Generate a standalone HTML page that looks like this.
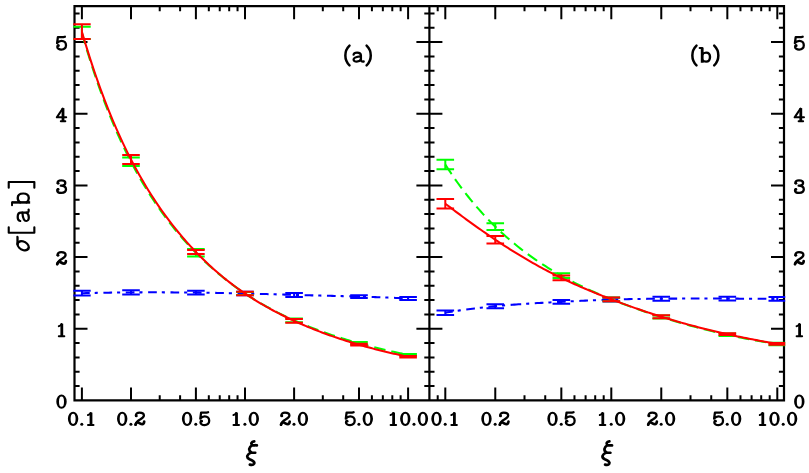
<!DOCTYPE html>
<html><head><meta charset="utf-8"><title>chart</title>
<style>html,body{margin:0;padding:0;background:#fff}svg{display:block}text{font-family:"Liberation Serif",serif}</style>
</head><body>
<svg width="809" height="473" viewBox="0 0 809 473">
<rect x="0" y="0" width="809" height="473" fill="#fff"/>
<defs><clipPath id="ca"><rect x="73.3" y="6.2" width="356.1" height="394.2"/></clipPath><clipPath id="cb"><rect x="429.4" y="6.2" width="355.8" height="394.2"/></clipPath></defs>
<path d="M74.5 386.07h5.1M424.30 386.07h10.2M784.0 386.07h-5.1M74.5 371.73h5.1M424.30 371.73h10.2M784.0 371.73h-5.1M74.5 357.40h5.1M424.30 357.40h10.2M784.0 357.40h-5.1M74.5 343.06h5.1M424.30 343.06h10.2M784.0 343.06h-5.1M74.5 328.73h13.0M416.40 328.73h26.0M784.0 328.73h-13.0M74.5 314.40h5.1M424.30 314.40h10.2M784.0 314.40h-5.1M74.5 300.06h5.1M424.30 300.06h10.2M784.0 300.06h-5.1M74.5 285.73h5.1M424.30 285.73h10.2M784.0 285.73h-5.1M74.5 271.39h5.1M424.30 271.39h10.2M784.0 271.39h-5.1M74.5 257.06h13.0M416.40 257.06h26.0M784.0 257.06h-13.0M74.5 242.73h5.1M424.30 242.73h10.2M784.0 242.73h-5.1M74.5 228.39h5.1M424.30 228.39h10.2M784.0 228.39h-5.1M74.5 214.06h5.1M424.30 214.06h10.2M784.0 214.06h-5.1M74.5 199.72h5.1M424.30 199.72h10.2M784.0 199.72h-5.1M74.5 185.39h13.0M416.40 185.39h26.0M784.0 185.39h-13.0M74.5 171.06h5.1M424.30 171.06h10.2M784.0 171.06h-5.1M74.5 156.72h5.1M424.30 156.72h10.2M784.0 156.72h-5.1M74.5 142.39h5.1M424.30 142.39h10.2M784.0 142.39h-5.1M74.5 128.05h5.1M424.30 128.05h10.2M784.0 128.05h-5.1M74.5 113.72h13.0M416.40 113.72h26.0M784.0 113.72h-13.0M74.5 99.39h5.1M424.30 99.39h10.2M784.0 99.39h-5.1M74.5 85.05h5.1M424.30 85.05h10.2M784.0 85.05h-5.1M74.5 70.72h5.1M424.30 70.72h10.2M784.0 70.72h-5.1M74.5 56.38h5.1M424.30 56.38h10.2M784.0 56.38h-5.1M74.5 42.05h13.0M416.40 42.05h26.0M784.0 42.05h-13.0M74.5 27.72h5.1M424.30 27.72h10.2M784.0 27.72h-5.1M74.5 13.38h5.1M424.30 13.38h10.2M784.0 13.38h-5.1M81.90 400.4v-13.0M81.90 6.2v13.0M131.00 400.4v-13.0M131.00 6.2v13.0M159.72 400.4v-5.1M159.72 6.2v5.1M180.10 400.4v-5.1M180.10 6.2v5.1M195.90 400.4v-13.0M195.90 6.2v13.0M208.82 400.4v-5.1M208.82 6.2v5.1M219.74 400.4v-5.1M219.74 6.2v5.1M229.19 400.4v-5.1M229.19 6.2v5.1M237.54 400.4v-5.1M237.54 6.2v5.1M245.00 400.4v-13.0M245.00 6.2v13.0M294.10 400.4v-13.0M294.10 6.2v13.0M322.82 400.4v-5.1M322.82 6.2v5.1M343.20 400.4v-5.1M343.20 6.2v5.1M359.00 400.4v-13.0M359.00 6.2v13.0M371.92 400.4v-5.1M371.92 6.2v5.1M382.84 400.4v-5.1M382.84 6.2v5.1M392.29 400.4v-5.1M392.29 6.2v5.1M400.64 400.4v-5.1M400.64 6.2v5.1M408.10 400.4v-13.0M408.10 6.2v13.0M437.70 400.4v-5.1M437.70 6.2v5.1M445.30 400.4v-13.0M445.30 6.2v13.0M495.27 400.4v-13.0M495.27 6.2v13.0M524.50 400.4v-5.1M524.50 6.2v5.1M545.24 400.4v-5.1M545.24 6.2v5.1M561.33 400.4v-13.0M561.33 6.2v13.0M574.47 400.4v-5.1M574.47 6.2v5.1M585.59 400.4v-5.1M585.59 6.2v5.1M595.21 400.4v-5.1M595.21 6.2v5.1M603.70 400.4v-5.1M603.70 6.2v5.1M611.30 400.4v-13.0M611.30 6.2v13.0M661.27 400.4v-13.0M661.27 6.2v13.0M690.50 400.4v-5.1M690.50 6.2v5.1M711.24 400.4v-5.1M711.24 6.2v5.1M727.33 400.4v-13.0M727.33 6.2v13.0M740.47 400.4v-5.1M740.47 6.2v5.1M751.59 400.4v-5.1M751.59 6.2v5.1M761.21 400.4v-5.1M761.21 6.2v5.1M769.70 400.4v-5.1M769.70 6.2v5.1M777.30 400.4v-13.0M777.30 6.2v13.0" stroke="#000" stroke-width="2" fill="none"/>
<path d="M74.5 6.2H784.0V400.4H74.5ZM429.4 6.2V400.4" stroke="#000" stroke-width="2.2" fill="none" stroke-linejoin="miter"/>
<g clip-path="url(#ca)" fill="none">
<path d="M81.90 293.20 L83.95 293.15 L86.00 293.10 L88.05 293.05 L90.11 293.00 L92.16 292.95 L94.21 292.91 L96.26 292.87 L98.31 292.83 L100.36 292.79 L102.42 292.75 L104.47 292.72 L106.52 292.68 L108.57 292.65 L110.62 292.62 L112.67 292.59 L114.73 292.56 L116.78 292.54 L118.83 292.51 L120.88 292.49 L122.93 292.47 L124.98 292.45 L127.03 292.43 L129.09 292.41 L131.14 292.40 L133.19 292.39 L135.24 292.37 L137.29 292.36 L139.34 292.35 L141.40 292.35 L143.45 292.34 L145.50 292.33 L147.55 292.33 L149.60 292.33 L151.65 292.33 L153.71 292.33 L155.76 292.33 L157.81 292.33 L159.86 292.34 L161.91 292.34 L163.96 292.35 L166.01 292.36 L168.07 292.36 L170.12 292.37 L172.17 292.39 L174.22 292.40 L176.27 292.41 L178.32 292.43 L180.38 292.44 L182.43 292.46 L184.48 292.48 L186.53 292.50 L188.58 292.52 L190.63 292.54 L192.68 292.56 L194.74 292.59 L196.79 292.61 L198.84 292.64 L200.89 292.66 L202.94 292.69 L204.99 292.72 L207.05 292.75 L209.10 292.78 L211.15 292.81 L213.20 292.84 L215.25 292.88 L217.30 292.91 L219.36 292.95 L221.41 292.99 L223.46 293.02 L225.51 293.06 L227.56 293.10 L229.61 293.15 L231.66 293.19 L233.72 293.23 L235.77 293.28 L237.82 293.33 L239.87 293.37 L241.92 293.42 L243.97 293.47 L246.03 293.53 L248.08 293.58 L250.13 293.63 L252.18 293.69 L254.23 293.74 L256.28 293.80 L258.34 293.86 L260.39 293.92 L262.44 293.98 L264.49 294.04 L266.54 294.10 L268.59 294.16 L270.64 294.22 L272.70 294.28 L274.75 294.34 L276.80 294.40 L278.85 294.46 L280.90 294.52 L282.95 294.58 L285.01 294.64 L287.06 294.70 L289.11 294.76 L291.16 294.82 L293.21 294.88 L295.26 294.93 L297.32 294.99 L299.37 295.04 L301.42 295.10 L303.47 295.15 L305.52 295.20 L307.57 295.26 L309.62 295.31 L311.68 295.36 L313.73 295.41 L315.78 295.46 L317.83 295.52 L319.88 295.57 L321.93 295.62 L323.99 295.67 L326.04 295.72 L328.09 295.77 L330.14 295.82 L332.19 295.87 L334.24 295.93 L336.29 295.98 L338.35 296.03 L340.40 296.08 L342.45 296.14 L344.50 296.19 L346.55 296.25 L348.60 296.30 L350.66 296.36 L352.71 296.42 L354.76 296.48 L356.81 296.54 L358.86 296.60 L360.91 296.66 L362.97 296.72 L365.02 296.78 L367.07 296.85 L369.12 296.91 L371.17 296.98 L373.22 297.05 L375.27 297.12 L377.33 297.19 L379.38 297.27 L381.43 297.34 L383.48 297.42 L385.53 297.50 L387.58 297.58 L389.64 297.66 L391.69 297.75 L393.74 297.83 L395.79 297.92 L397.84 298.01 L399.89 298.11 L401.95 298.20 L404.00 298.30 L406.05 298.40 L408.10 298.50" stroke="#0000ff" stroke-width="2.05" stroke-dasharray="8.7 4.95 3.1 5.61" stroke-dashoffset="0.85" stroke-linejoin="round"/>
<path d="M81.90 290.80V295.60M73.10 290.80H90.70M73.10 295.60H90.70M131.00 290.35V294.45M122.20 290.35H139.80M122.20 294.45H139.80M195.90 290.75V294.45M187.10 290.75H204.70M187.10 294.45H204.70M245.00 291.80V295.20M236.20 291.80H253.80M236.20 295.20H253.80M294.10 292.90V296.90M285.30 292.90H302.90M285.30 296.90H302.90M359.00 295.15V298.05M350.20 295.15H367.80M350.20 298.05H367.80M408.10 297.05V299.95M399.30 297.05H416.90M399.30 299.95H416.90" stroke="#0000ff" stroke-width="2.0"/>
<path d="M81.90 32.85 L83.95 39.99 L86.00 46.94 L88.05 53.71 L90.11 60.29 L92.16 66.70 L94.21 72.94 L96.26 79.02 L98.31 84.95 L100.36 90.72 L102.42 96.34 L104.47 101.82 L106.52 107.17 L108.57 112.38 L110.62 117.46 L112.67 122.42 L114.73 127.25 L116.78 131.97 L118.83 136.58 L120.88 141.07 L122.93 145.46 L124.98 149.75 L127.03 153.93 L129.09 158.02 L131.14 162.02 L133.19 165.92 L135.24 169.74 L137.29 173.47 L139.34 177.12 L141.40 180.68 L143.45 184.17 L145.50 187.58 L147.55 190.92 L149.60 194.19 L151.65 197.39 L153.71 200.52 L155.76 203.58 L157.81 206.59 L159.86 209.53 L161.91 212.41 L163.96 215.23 L166.01 218.00 L168.07 220.71 L170.12 223.37 L172.17 225.97 L174.22 228.53 L176.27 231.03 L178.32 233.49 L180.38 235.91 L182.43 238.28 L184.48 240.60 L186.53 242.88 L188.58 245.12 L190.63 247.32 L192.68 249.49 L194.74 251.61 L196.79 253.70 L198.84 255.75 L200.89 257.76 L202.94 259.74 L204.99 261.69 L207.05 263.60 L209.10 265.48 L211.15 267.32 L213.20 269.14 L215.25 270.92 L217.30 272.67 L219.36 274.39 L221.41 276.08 L223.46 277.74 L225.51 279.37 L227.56 280.97 L229.61 282.55 L231.66 284.09 L233.72 285.61 L235.77 287.10 L237.82 288.57 L239.87 290.01 L241.92 291.43 L243.97 292.81 L246.03 294.18 L248.08 295.52 L250.13 296.84 L252.18 298.13 L254.23 299.40 L256.28 300.65 L258.34 301.88 L260.39 303.09 L262.44 304.27 L264.49 305.44 L266.54 306.59 L268.59 307.72 L270.64 308.82 L272.70 309.92 L274.75 310.99 L276.80 312.04 L278.85 313.08 L280.90 314.10 L282.95 315.11 L285.01 316.10 L287.06 317.07 L289.11 318.03 L291.16 318.97 L293.21 319.90 L295.26 320.82 L297.32 321.72 L299.37 322.61 L301.42 323.48 L303.47 324.34 L305.52 325.19 L307.57 326.02 L309.62 326.84 L311.68 327.65 L313.73 328.45 L315.78 329.23 L317.83 330.00 L319.88 330.77 L321.93 331.52 L323.99 332.25 L326.04 332.98 L328.09 333.70 L330.14 334.41 L332.19 335.10 L334.24 335.79 L336.29 336.46 L338.35 337.13 L340.40 337.78 L342.45 338.43 L344.50 339.06 L346.55 339.69 L348.60 340.31 L350.66 340.92 L352.71 341.51 L354.76 342.11 L356.81 342.69 L358.86 343.26 L360.91 343.83 L362.97 344.38 L365.02 344.93 L367.07 345.47 L369.12 346.01 L371.17 346.53 L373.22 347.05 L375.27 347.56 L377.33 348.06 L379.38 348.56 L381.43 349.05 L383.48 349.53 L385.53 350.00 L387.58 350.47 L389.64 350.93 L391.69 351.39 L393.74 351.84 L395.79 352.28 L397.84 352.71 L399.89 353.14 L401.95 353.57 L404.00 353.98 L406.05 354.39 L408.10 354.80" stroke="#00ff00" stroke-width="2.05" stroke-dasharray="11.5 6" stroke-linejoin="round"/>
<path d="M81.90 26.70V39.00M73.10 26.70H90.70M73.10 39.00H90.70M131.00 157.60V165.90M122.20 157.60H139.80M122.20 165.90H139.80M195.90 249.05V256.55M187.10 249.05H204.70M187.10 256.55H204.70M245.00 291.90V295.10M236.20 291.90H253.80M236.20 295.10H253.80M294.10 318.40V322.20M285.30 318.40H302.90M285.30 322.20H302.90M359.00 342.00V344.60M350.20 342.00H367.80M350.20 344.60H367.80M408.10 354.00V355.60M399.30 354.00H416.90M399.30 355.60H416.90" stroke="#00ff00" stroke-width="2.0"/>
<path d="M81.90 31.70 L83.95 38.68 L86.00 45.48 L88.05 52.11 L90.11 58.57 L92.16 64.87 L94.21 71.02 L96.26 77.01 L98.31 82.86 L100.36 88.56 L102.42 94.13 L104.47 99.57 L106.52 104.87 L108.57 110.05 L110.62 115.11 L112.67 120.05 L114.73 124.87 L116.78 129.58 L118.83 134.19 L120.88 138.69 L122.93 143.09 L124.98 147.39 L127.03 151.59 L129.09 155.70 L131.14 159.72 L133.19 163.65 L135.24 167.50 L137.29 171.26 L139.34 174.95 L141.40 178.55 L143.45 182.08 L145.50 185.53 L147.55 188.92 L149.60 192.23 L151.65 195.47 L153.71 198.65 L155.76 201.76 L157.81 204.81 L159.86 207.80 L161.91 210.74 L163.96 213.61 L166.01 216.43 L168.07 219.19 L170.12 221.90 L172.17 224.55 L174.22 227.16 L176.27 229.72 L178.32 232.23 L180.38 234.69 L182.43 237.11 L184.48 239.49 L186.53 241.82 L188.58 244.11 L190.63 246.36 L192.68 248.56 L194.74 250.73 L196.79 252.87 L198.84 254.96 L200.89 257.02 L202.94 259.04 L204.99 261.03 L207.05 262.98 L209.10 264.90 L211.15 266.79 L213.20 268.64 L215.25 270.46 L217.30 272.25 L219.36 274.00 L221.41 275.73 L223.46 277.42 L225.51 279.09 L227.56 280.72 L229.61 282.33 L231.66 283.91 L233.72 285.46 L235.77 286.98 L237.82 288.48 L239.87 289.94 L241.92 291.39 L243.97 292.80 L246.03 294.19 L248.08 295.56 L250.13 296.90 L252.18 298.22 L254.23 299.51 L256.28 300.79 L258.34 302.04 L260.39 303.27 L262.44 304.47 L264.49 305.66 L266.54 306.83 L268.59 307.98 L270.64 309.11 L272.70 310.23 L274.75 311.32 L276.80 312.40 L278.85 313.46 L280.90 314.50 L282.95 315.53 L285.01 316.54 L287.06 317.54 L289.11 318.52 L291.16 319.49 L293.21 320.44 L295.26 321.38 L297.32 322.31 L299.37 323.22 L301.42 324.12 L303.47 325.01 L305.52 325.88 L307.57 326.74 L309.62 327.59 L311.68 328.42 L313.73 329.25 L315.78 330.06 L317.83 330.86 L319.88 331.65 L321.93 332.43 L323.99 333.19 L326.04 333.95 L328.09 334.69 L330.14 335.43 L332.19 336.15 L334.24 336.86 L336.29 337.56 L338.35 338.26 L340.40 338.94 L342.45 339.61 L344.50 340.28 L346.55 340.93 L348.60 341.57 L350.66 342.21 L352.71 342.83 L354.76 343.45 L356.81 344.06 L358.86 344.66 L360.91 345.25 L362.97 345.83 L365.02 346.41 L367.07 346.97 L369.12 347.53 L371.17 348.08 L373.22 348.62 L375.27 349.16 L377.33 349.69 L379.38 350.21 L381.43 350.72 L383.48 351.22 L385.53 351.72 L387.58 352.21 L389.64 352.69 L391.69 353.17 L393.74 353.64 L395.79 354.10 L397.84 354.56 L399.89 355.01 L401.95 355.46 L404.00 355.89 L406.05 356.32 L408.10 356.75" stroke="#ff0000" stroke-width="2.05" stroke-linejoin="round"/>
<path d="M81.90 24.30V39.10M73.10 24.30H90.70M73.10 39.10H90.70M131.00 155.00V163.90M122.20 155.00H139.80M122.20 163.90H139.80M195.90 249.90V254.00M187.10 249.90H204.70M187.10 254.00H204.70M245.00 291.85V295.15M236.20 291.85H253.80M236.20 295.15H253.80M294.10 318.90V322.80M285.30 318.90H302.90M285.30 322.80H302.90M359.00 343.80V345.60M350.20 343.80H367.80M350.20 345.60H367.80M408.10 356.10V357.40M399.30 356.10H416.90M399.30 357.40H416.90" stroke="#ff0000" stroke-width="2.0"/>
</g>
<g clip-path="url(#cb)" fill="none">
<path d="M445.30 312.65 L447.39 312.30 L449.48 311.96 L451.56 311.63 L453.65 311.30 L455.74 310.99 L457.83 310.67 L459.92 310.37 L462.00 310.07 L464.09 309.78 L466.18 309.50 L468.27 309.22 L470.36 308.95 L472.44 308.69 L474.53 308.43 L476.62 308.18 L478.71 307.94 L480.80 307.70 L482.88 307.46 L484.97 307.24 L487.06 307.02 L489.15 306.80 L491.24 306.59 L493.33 306.39 L495.41 306.19 L497.50 305.99 L499.59 305.80 L501.68 305.62 L503.77 305.44 L505.85 305.26 L507.94 305.09 L510.03 304.93 L512.12 304.77 L514.21 304.61 L516.29 304.46 L518.38 304.31 L520.47 304.16 L522.56 304.02 L524.65 303.88 L526.73 303.74 L528.82 303.61 L530.91 303.48 L533.00 303.35 L535.09 303.22 L537.17 303.10 L539.26 302.98 L541.35 302.86 L543.44 302.74 L545.53 302.63 L547.61 302.52 L549.70 302.40 L551.79 302.29 L553.88 302.18 L555.97 302.08 L558.05 301.97 L560.14 301.86 L562.23 301.75 L564.32 301.65 L566.41 301.54 L568.49 301.44 L570.58 301.33 L572.67 301.23 L574.76 301.13 L576.85 301.02 L578.94 300.92 L581.02 300.82 L583.11 300.73 L585.20 300.63 L587.29 300.54 L589.38 300.44 L591.46 300.35 L593.55 300.26 L595.64 300.18 L597.73 300.09 L599.82 300.01 L601.90 299.93 L603.99 299.85 L606.08 299.78 L608.17 299.70 L610.26 299.63 L612.34 299.57 L614.43 299.50 L616.52 299.44 L618.61 299.39 L620.70 299.33 L622.78 299.28 L624.87 299.23 L626.96 299.18 L629.05 299.14 L631.14 299.10 L633.22 299.06 L635.31 299.02 L637.40 298.98 L639.49 298.95 L641.58 298.92 L643.66 298.89 L645.75 298.86 L647.84 298.83 L649.93 298.81 L652.02 298.79 L654.11 298.76 L656.19 298.74 L658.28 298.73 L660.37 298.71 L662.46 298.69 L664.55 298.67 L666.63 298.66 L668.72 298.65 L670.81 298.63 L672.90 298.62 L674.99 298.61 L677.07 298.60 L679.16 298.59 L681.25 298.58 L683.34 298.58 L685.43 298.57 L687.51 298.56 L689.60 298.56 L691.69 298.56 L693.78 298.55 L695.87 298.55 L697.95 298.55 L700.04 298.55 L702.13 298.55 L704.22 298.55 L706.31 298.55 L708.39 298.55 L710.48 298.55 L712.57 298.56 L714.66 298.56 L716.75 298.57 L718.83 298.57 L720.92 298.58 L723.01 298.58 L725.10 298.59 L727.19 298.60 L729.27 298.61 L731.36 298.62 L733.45 298.63 L735.54 298.63 L737.63 298.64 L739.72 298.66 L741.80 298.67 L743.89 298.68 L745.98 298.69 L748.07 298.70 L750.16 298.71 L752.24 298.73 L754.33 298.74 L756.42 298.75 L758.51 298.77 L760.60 298.78 L762.68 298.79 L764.77 298.81 L766.86 298.82 L768.95 298.84 L771.04 298.85 L773.12 298.87 L775.21 298.88 L777.30 298.90" stroke="#0000ff" stroke-width="2.05" stroke-dasharray="8.7 4.95 3.1 5.55 8.7 4.95 3.1 5.55 8.7 4.95 3.1 5.55 10.6 4.95 3.1 5.55 8.7 4.95 3.1 5.55 8.7 4.95 3.1 5.55 8.7 4.95 3.1 5.55 8.7 4.95 3.1 5.55 8.7 4.95 3.1 5.55 8.7 4.95 3.1 5.55 8.7 4.95 3.1 5.55 8.7 4.95 3.1 5.55 8.7 4.95 3.1 5.55 8.7 4.95 3.1 5.55 8.7 4.95 3.1 5.55 8.7 4.95 3.1 5.55" stroke-dashoffset="1.1" stroke-linejoin="round"/>
<path d="M445.30 310.40V314.90M436.50 310.40H454.10M436.50 314.90H454.10M495.27 304.20V308.20M486.47 304.20H504.07M486.47 308.20H504.07M561.33 299.90V303.70M552.53 299.90H570.13M552.53 303.70H570.13M611.30 297.80V301.40M602.50 297.80H620.10M602.50 301.40H620.10M661.27 296.70V300.70M652.47 296.70H670.07M652.47 300.70H670.07M727.33 296.70V300.50M718.53 296.70H736.13M718.53 300.50H736.13M777.30 297.10V300.70M768.50 297.10H786.10M768.50 300.70H786.10" stroke="#0000ff" stroke-width="2.0"/>
<path d="M445.30 164.50 L447.39 167.75 L449.48 170.93 L451.56 174.04 L453.65 177.09 L455.74 180.07 L457.83 183.00 L459.92 185.86 L462.00 188.67 L464.09 191.42 L466.18 194.11 L468.27 196.75 L470.36 199.34 L472.44 201.88 L474.53 204.37 L476.62 206.81 L478.71 209.20 L480.80 211.54 L482.88 213.84 L484.97 216.09 L487.06 218.30 L489.15 220.47 L491.24 222.60 L493.33 224.69 L495.41 226.74 L497.50 228.75 L499.59 230.72 L501.68 232.66 L503.77 234.56 L505.85 236.42 L507.94 238.26 L510.03 240.05 L512.12 241.82 L514.21 243.56 L516.29 245.26 L518.38 246.93 L520.47 248.57 L522.56 250.19 L524.65 251.78 L526.73 253.33 L528.82 254.87 L530.91 256.37 L533.00 257.85 L535.09 259.31 L537.17 260.73 L539.26 262.14 L541.35 263.52 L543.44 264.88 L545.53 266.22 L547.61 267.53 L549.70 268.82 L551.79 270.10 L553.88 271.35 L555.97 272.58 L558.05 273.79 L560.14 274.98 L562.23 276.15 L564.32 277.31 L566.41 278.45 L568.49 279.56 L570.58 280.67 L572.67 281.75 L574.76 282.82 L576.85 283.87 L578.94 284.91 L581.02 285.94 L583.11 286.94 L585.20 287.94 L587.29 288.92 L589.38 289.88 L591.46 290.84 L593.55 291.78 L595.64 292.71 L597.73 293.62 L599.82 294.53 L601.90 295.42 L603.99 296.30 L606.08 297.17 L608.17 298.03 L610.26 298.88 L612.34 299.72 L614.43 300.55 L616.52 301.37 L618.61 302.18 L620.70 302.98 L622.78 303.77 L624.87 304.55 L626.96 305.33 L629.05 306.09 L631.14 306.85 L633.22 307.60 L635.31 308.34 L637.40 309.08 L639.49 309.81 L641.58 310.53 L643.66 311.24 L645.75 311.95 L647.84 312.65 L649.93 313.34 L652.02 314.03 L654.11 314.71 L656.19 315.38 L658.28 316.05 L660.37 316.72 L662.46 317.37 L664.55 318.03 L666.63 318.67 L668.72 319.31 L670.81 319.95 L672.90 320.58 L674.99 321.20 L677.07 321.82 L679.16 322.43 L681.25 323.03 L683.34 323.63 L685.43 324.23 L687.51 324.81 L689.60 325.40 L691.69 325.97 L693.78 326.54 L695.87 327.10 L697.95 327.66 L700.04 328.21 L702.13 328.75 L704.22 329.29 L706.31 329.82 L708.39 330.34 L710.48 330.86 L712.57 331.37 L714.66 331.88 L716.75 332.37 L718.83 332.87 L720.92 333.35 L723.01 333.83 L725.10 334.30 L727.19 334.77 L729.27 335.23 L731.36 335.68 L733.45 336.13 L735.54 336.57 L737.63 337.00 L739.72 337.43 L741.80 337.85 L743.89 338.26 L745.98 338.67 L748.07 339.07 L750.16 339.46 L752.24 339.85 L754.33 340.23 L756.42 340.61 L758.51 340.98 L760.60 341.34 L762.68 341.69 L764.77 342.04 L766.86 342.38 L768.95 342.72 L771.04 343.05 L773.12 343.37 L775.21 343.69 L777.30 344.00" stroke="#00ff00" stroke-width="2.05" stroke-dasharray="11.5 6" stroke-linejoin="round"/>
<path d="M445.30 159.80V169.20M436.50 159.80H454.10M436.50 169.20H454.10M495.27 223.15V230.05M486.47 223.15H504.07M486.47 230.05H504.07M561.33 273.30V278.00M552.53 273.30H570.13M552.53 278.00H570.13M611.30 297.40V301.20M602.50 297.40H620.10M602.50 301.20H620.10M661.27 315.50V318.50M652.47 315.50H670.07M652.47 318.50H670.07M727.33 333.50V336.10M718.53 333.50H736.13M718.53 336.10H736.13M777.30 342.80V345.20M768.50 342.80H786.10M768.50 345.20H786.10" stroke="#00ff00" stroke-width="2.0"/>
<path d="M445.30 203.70 L447.39 205.29 L449.48 206.87 L451.56 208.44 L453.65 210.01 L455.74 211.58 L457.83 213.13 L459.92 214.69 L462.00 216.23 L464.09 217.77 L466.18 219.30 L468.27 220.82 L470.36 222.33 L472.44 223.84 L474.53 225.34 L476.62 226.83 L478.71 228.31 L480.80 229.78 L482.88 231.24 L484.97 232.69 L487.06 234.13 L489.15 235.56 L491.24 236.98 L493.33 238.39 L495.41 239.80 L497.50 241.18 L499.59 242.56 L501.68 243.93 L503.77 245.29 L505.85 246.63 L507.94 247.97 L510.03 249.29 L512.12 250.60 L514.21 251.90 L516.29 253.19 L518.38 254.46 L520.47 255.73 L522.56 256.98 L524.65 258.22 L526.73 259.44 L528.82 260.66 L530.91 261.86 L533.00 263.05 L535.09 264.23 L537.17 265.39 L539.26 266.55 L541.35 267.69 L543.44 268.81 L545.53 269.93 L547.61 271.03 L549.70 272.12 L551.79 273.19 L553.88 274.26 L555.97 275.31 L558.05 276.35 L560.14 277.37 L562.23 278.39 L564.32 279.39 L566.41 280.37 L568.49 281.35 L570.58 282.32 L572.67 283.27 L574.76 284.21 L576.85 285.15 L578.94 286.07 L581.02 286.98 L583.11 287.88 L585.20 288.78 L587.29 289.66 L589.38 290.54 L591.46 291.41 L593.55 292.27 L595.64 293.12 L597.73 293.97 L599.82 294.81 L601.90 295.64 L603.99 296.46 L606.08 297.28 L608.17 298.09 L610.26 298.90 L612.34 299.70 L614.43 300.49 L616.52 301.28 L618.61 302.06 L620.70 302.84 L622.78 303.61 L624.87 304.38 L626.96 305.14 L629.05 305.89 L631.14 306.63 L633.22 307.38 L635.31 308.11 L637.40 308.84 L639.49 309.56 L641.58 310.27 L643.66 310.98 L645.75 311.68 L647.84 312.38 L649.93 313.07 L652.02 313.75 L654.11 314.43 L656.19 315.10 L658.28 315.76 L660.37 316.42 L662.46 317.07 L664.55 317.71 L666.63 318.35 L668.72 318.98 L670.81 319.60 L672.90 320.22 L674.99 320.83 L677.07 321.44 L679.16 322.04 L681.25 322.63 L683.34 323.22 L685.43 323.80 L687.51 324.37 L689.60 324.94 L691.69 325.50 L693.78 326.06 L695.87 326.61 L697.95 327.15 L700.04 327.69 L702.13 328.22 L704.22 328.75 L706.31 329.27 L708.39 329.79 L710.48 330.29 L712.57 330.80 L714.66 331.30 L716.75 331.79 L718.83 332.28 L720.92 332.76 L723.01 333.23 L725.10 333.70 L727.19 334.17 L729.27 334.63 L731.36 335.08 L733.45 335.53 L735.54 335.98 L737.63 336.41 L739.72 336.85 L741.80 337.28 L743.89 337.70 L745.98 338.12 L748.07 338.53 L750.16 338.94 L752.24 339.34 L754.33 339.74 L756.42 340.13 L758.51 340.52 L760.60 340.90 L762.68 341.28 L764.77 341.66 L766.86 342.02 L768.95 342.39 L771.04 342.75 L773.12 343.10 L775.21 343.45 L777.30 343.80" stroke="#ff0000" stroke-width="2.05" stroke-linejoin="round"/>
<path d="M445.30 198.90V208.50M436.50 198.90H454.10M436.50 208.50H454.10M495.27 235.90V243.50M486.47 235.90H504.07M486.47 243.50H504.07M561.33 275.60V280.30M552.53 275.60H570.13M552.53 280.30H570.13M611.30 297.40V301.20M602.50 297.40H620.10M602.50 301.20H620.10M661.27 315.15V318.25M652.47 315.15H670.07M652.47 318.25H670.07M727.33 333.30V335.10M718.53 333.30H736.13M718.53 335.10H736.13M777.30 342.90V344.70M768.50 342.90H786.10M768.50 344.70H786.10" stroke="#ff0000" stroke-width="2.0"/>
</g>
<g fill="none" stroke="#000" stroke-linejoin="round">
<g transform="translate(67.10 425.90)"><path d="M0.8,-7.05a5.2,7.15 0 1,0 10.4,0a5.2,7.15 0 1,0 -10.4,0ZM3.5,-7.05a2.5,5.2 0 1,1 5.0,0a2.5,5.2 0 1,1 -5.0,0Z" fill="#000" fill-rule="evenodd" stroke="none"/></g>
<g transform="translate(79.10 425.90)"><circle cx="2.7" cy="-1.7" r="1.5" fill="#000" stroke="none"/></g>
<g transform="translate(84.70 425.90)"><path d="M6.3,-13.3V-0.9" stroke-width="2.8" stroke-linecap="butt"/><path d="M3.3,-10.8C4.6,-10.9 5.6,-11.7 6.0,-13.0" stroke-width="2.0" stroke-linecap="round"/><path d="M3.3,-0.8H8.8" stroke-width="2.0" stroke-linecap="round"/></g>
<g transform="translate(430.50 425.90)"><path d="M0.8,-7.05a5.2,7.15 0 1,0 10.4,0a5.2,7.15 0 1,0 -10.4,0ZM3.5,-7.05a2.5,5.2 0 1,1 5.0,0a2.5,5.2 0 1,1 -5.0,0Z" fill="#000" fill-rule="evenodd" stroke="none"/></g>
<g transform="translate(442.50 425.90)"><circle cx="2.7" cy="-1.7" r="1.5" fill="#000" stroke="none"/></g>
<g transform="translate(448.10 425.90)"><path d="M6.3,-13.3V-0.9" stroke-width="2.8" stroke-linecap="butt"/><path d="M3.3,-10.8C4.6,-10.9 5.6,-11.7 6.0,-13.0" stroke-width="2.0" stroke-linecap="round"/><path d="M3.3,-0.8H8.8" stroke-width="2.0" stroke-linecap="round"/></g>
<g transform="translate(116.20 425.90)"><path d="M0.8,-7.05a5.2,7.15 0 1,0 10.4,0a5.2,7.15 0 1,0 -10.4,0ZM3.5,-7.05a2.5,5.2 0 1,1 5.0,0a2.5,5.2 0 1,1 -5.0,0Z" fill="#000" fill-rule="evenodd" stroke="none"/></g>
<g transform="translate(128.20 425.90)"><circle cx="2.7" cy="-1.7" r="1.5" fill="#000" stroke="none"/></g>
<g transform="translate(133.80 425.90)"><path d="M2.1,-10.2C1.9,-12.3 3.6,-13.3 5.7,-13.3C8.4,-13.3 10.1,-12.1 10.1,-10.3C10.1,-8.5 8.3,-7.5 6.2,-6.3C3.8,-5.0 2.2,-3.6 1.7,-1.2" stroke-width="2.3" stroke-linecap="round"/><path d="M1.7,-1.2C2.2,-2.7 3.0,-3.4 4.1,-3.4C5.6,-3.4 6.6,-1.7 8.5,-1.7C9.6,-1.7 10.2,-2.8 10.4,-4.3" stroke-width="2.7" stroke-linecap="round"/><circle cx="2.5" cy="-10.0" r="1.45" fill="#000" stroke="none"/></g>
<g transform="translate(480.47 425.90)"><path d="M0.8,-7.05a5.2,7.15 0 1,0 10.4,0a5.2,7.15 0 1,0 -10.4,0ZM3.5,-7.05a2.5,5.2 0 1,1 5.0,0a2.5,5.2 0 1,1 -5.0,0Z" fill="#000" fill-rule="evenodd" stroke="none"/></g>
<g transform="translate(492.47 425.90)"><circle cx="2.7" cy="-1.7" r="1.5" fill="#000" stroke="none"/></g>
<g transform="translate(498.07 425.90)"><path d="M2.1,-10.2C1.9,-12.3 3.6,-13.3 5.7,-13.3C8.4,-13.3 10.1,-12.1 10.1,-10.3C10.1,-8.5 8.3,-7.5 6.2,-6.3C3.8,-5.0 2.2,-3.6 1.7,-1.2" stroke-width="2.3" stroke-linecap="round"/><path d="M1.7,-1.2C2.2,-2.7 3.0,-3.4 4.1,-3.4C5.6,-3.4 6.6,-1.7 8.5,-1.7C9.6,-1.7 10.2,-2.8 10.4,-4.3" stroke-width="2.7" stroke-linecap="round"/><circle cx="2.5" cy="-10.0" r="1.45" fill="#000" stroke="none"/></g>
<g transform="translate(181.10 425.90)"><path d="M0.8,-7.05a5.2,7.15 0 1,0 10.4,0a5.2,7.15 0 1,0 -10.4,0ZM3.5,-7.05a2.5,5.2 0 1,1 5.0,0a2.5,5.2 0 1,1 -5.0,0Z" fill="#000" fill-rule="evenodd" stroke="none"/></g>
<g transform="translate(193.10 425.90)"><circle cx="2.7" cy="-1.7" r="1.5" fill="#000" stroke="none"/></g>
<g transform="translate(198.70 425.90)"><path d="M9.4,-13.6C8.0,-13.0 6.0,-13.2 2.4,-13.2L1.6,-7.3C2.8,-8.8 4.4,-9.5 6.0,-9.5C8.8,-9.5 10.5,-7.6 10.5,-5.2C10.5,-2.4 8.6,-0.8 5.9,-0.8C3.5,-0.8 1.8,-1.9 1.8,-3.4C1.8,-4.2 2.2,-4.8 2.6,-5.0" stroke-width="2.3" stroke-linecap="round"/><circle cx="2.9" cy="-4.7" r="1.4" fill="#000" stroke="none"/></g>
<g transform="translate(546.53 425.90)"><path d="M0.8,-7.05a5.2,7.15 0 1,0 10.4,0a5.2,7.15 0 1,0 -10.4,0ZM3.5,-7.05a2.5,5.2 0 1,1 5.0,0a2.5,5.2 0 1,1 -5.0,0Z" fill="#000" fill-rule="evenodd" stroke="none"/></g>
<g transform="translate(558.53 425.90)"><circle cx="2.7" cy="-1.7" r="1.5" fill="#000" stroke="none"/></g>
<g transform="translate(564.13 425.90)"><path d="M9.4,-13.6C8.0,-13.0 6.0,-13.2 2.4,-13.2L1.6,-7.3C2.8,-8.8 4.4,-9.5 6.0,-9.5C8.8,-9.5 10.5,-7.6 10.5,-5.2C10.5,-2.4 8.6,-0.8 5.9,-0.8C3.5,-0.8 1.8,-1.9 1.8,-3.4C1.8,-4.2 2.2,-4.8 2.6,-5.0" stroke-width="2.3" stroke-linecap="round"/><circle cx="2.9" cy="-4.7" r="1.4" fill="#000" stroke="none"/></g>
<g transform="translate(230.20 425.90)"><path d="M6.3,-13.3V-0.9" stroke-width="2.8" stroke-linecap="butt"/><path d="M3.3,-10.8C4.6,-10.9 5.6,-11.7 6.0,-13.0" stroke-width="2.0" stroke-linecap="round"/><path d="M3.3,-0.8H8.8" stroke-width="2.0" stroke-linecap="round"/></g>
<g transform="translate(242.20 425.90)"><circle cx="2.7" cy="-1.7" r="1.5" fill="#000" stroke="none"/></g>
<g transform="translate(247.80 425.90)"><path d="M0.8,-7.05a5.2,7.15 0 1,0 10.4,0a5.2,7.15 0 1,0 -10.4,0ZM3.5,-7.05a2.5,5.2 0 1,1 5.0,0a2.5,5.2 0 1,1 -5.0,0Z" fill="#000" fill-rule="evenodd" stroke="none"/></g>
<g transform="translate(596.50 425.90)"><path d="M6.3,-13.3V-0.9" stroke-width="2.8" stroke-linecap="butt"/><path d="M3.3,-10.8C4.6,-10.9 5.6,-11.7 6.0,-13.0" stroke-width="2.0" stroke-linecap="round"/><path d="M3.3,-0.8H8.8" stroke-width="2.0" stroke-linecap="round"/></g>
<g transform="translate(608.50 425.90)"><circle cx="2.7" cy="-1.7" r="1.5" fill="#000" stroke="none"/></g>
<g transform="translate(614.10 425.90)"><path d="M0.8,-7.05a5.2,7.15 0 1,0 10.4,0a5.2,7.15 0 1,0 -10.4,0ZM3.5,-7.05a2.5,5.2 0 1,1 5.0,0a2.5,5.2 0 1,1 -5.0,0Z" fill="#000" fill-rule="evenodd" stroke="none"/></g>
<g transform="translate(279.30 425.90)"><path d="M2.1,-10.2C1.9,-12.3 3.6,-13.3 5.7,-13.3C8.4,-13.3 10.1,-12.1 10.1,-10.3C10.1,-8.5 8.3,-7.5 6.2,-6.3C3.8,-5.0 2.2,-3.6 1.7,-1.2" stroke-width="2.3" stroke-linecap="round"/><path d="M1.7,-1.2C2.2,-2.7 3.0,-3.4 4.1,-3.4C5.6,-3.4 6.6,-1.7 8.5,-1.7C9.6,-1.7 10.2,-2.8 10.4,-4.3" stroke-width="2.7" stroke-linecap="round"/><circle cx="2.5" cy="-10.0" r="1.45" fill="#000" stroke="none"/></g>
<g transform="translate(291.30 425.90)"><circle cx="2.7" cy="-1.7" r="1.5" fill="#000" stroke="none"/></g>
<g transform="translate(296.90 425.90)"><path d="M0.8,-7.05a5.2,7.15 0 1,0 10.4,0a5.2,7.15 0 1,0 -10.4,0ZM3.5,-7.05a2.5,5.2 0 1,1 5.0,0a2.5,5.2 0 1,1 -5.0,0Z" fill="#000" fill-rule="evenodd" stroke="none"/></g>
<g transform="translate(646.47 425.90)"><path d="M2.1,-10.2C1.9,-12.3 3.6,-13.3 5.7,-13.3C8.4,-13.3 10.1,-12.1 10.1,-10.3C10.1,-8.5 8.3,-7.5 6.2,-6.3C3.8,-5.0 2.2,-3.6 1.7,-1.2" stroke-width="2.3" stroke-linecap="round"/><path d="M1.7,-1.2C2.2,-2.7 3.0,-3.4 4.1,-3.4C5.6,-3.4 6.6,-1.7 8.5,-1.7C9.6,-1.7 10.2,-2.8 10.4,-4.3" stroke-width="2.7" stroke-linecap="round"/><circle cx="2.5" cy="-10.0" r="1.45" fill="#000" stroke="none"/></g>
<g transform="translate(658.47 425.90)"><circle cx="2.7" cy="-1.7" r="1.5" fill="#000" stroke="none"/></g>
<g transform="translate(664.07 425.90)"><path d="M0.8,-7.05a5.2,7.15 0 1,0 10.4,0a5.2,7.15 0 1,0 -10.4,0ZM3.5,-7.05a2.5,5.2 0 1,1 5.0,0a2.5,5.2 0 1,1 -5.0,0Z" fill="#000" fill-rule="evenodd" stroke="none"/></g>
<g transform="translate(344.20 425.90)"><path d="M9.4,-13.6C8.0,-13.0 6.0,-13.2 2.4,-13.2L1.6,-7.3C2.8,-8.8 4.4,-9.5 6.0,-9.5C8.8,-9.5 10.5,-7.6 10.5,-5.2C10.5,-2.4 8.6,-0.8 5.9,-0.8C3.5,-0.8 1.8,-1.9 1.8,-3.4C1.8,-4.2 2.2,-4.8 2.6,-5.0" stroke-width="2.3" stroke-linecap="round"/><circle cx="2.9" cy="-4.7" r="1.4" fill="#000" stroke="none"/></g>
<g transform="translate(356.20 425.90)"><circle cx="2.7" cy="-1.7" r="1.5" fill="#000" stroke="none"/></g>
<g transform="translate(361.80 425.90)"><path d="M0.8,-7.05a5.2,7.15 0 1,0 10.4,0a5.2,7.15 0 1,0 -10.4,0ZM3.5,-7.05a2.5,5.2 0 1,1 5.0,0a2.5,5.2 0 1,1 -5.0,0Z" fill="#000" fill-rule="evenodd" stroke="none"/></g>
<g transform="translate(712.53 425.90)"><path d="M9.4,-13.6C8.0,-13.0 6.0,-13.2 2.4,-13.2L1.6,-7.3C2.8,-8.8 4.4,-9.5 6.0,-9.5C8.8,-9.5 10.5,-7.6 10.5,-5.2C10.5,-2.4 8.6,-0.8 5.9,-0.8C3.5,-0.8 1.8,-1.9 1.8,-3.4C1.8,-4.2 2.2,-4.8 2.6,-5.0" stroke-width="2.3" stroke-linecap="round"/><circle cx="2.9" cy="-4.7" r="1.4" fill="#000" stroke="none"/></g>
<g transform="translate(724.53 425.90)"><circle cx="2.7" cy="-1.7" r="1.5" fill="#000" stroke="none"/></g>
<g transform="translate(730.13 425.90)"><path d="M0.8,-7.05a5.2,7.15 0 1,0 10.4,0a5.2,7.15 0 1,0 -10.4,0ZM3.5,-7.05a2.5,5.2 0 1,1 5.0,0a2.5,5.2 0 1,1 -5.0,0Z" fill="#000" fill-rule="evenodd" stroke="none"/></g>
<g transform="translate(387.30 425.90)"><path d="M6.3,-13.3V-0.9" stroke-width="2.8" stroke-linecap="butt"/><path d="M3.3,-10.8C4.6,-10.9 5.6,-11.7 6.0,-13.0" stroke-width="2.0" stroke-linecap="round"/><path d="M3.3,-0.8H8.8" stroke-width="2.0" stroke-linecap="round"/></g>
<g transform="translate(399.30 425.90)"><path d="M0.8,-7.05a5.2,7.15 0 1,0 10.4,0a5.2,7.15 0 1,0 -10.4,0ZM3.5,-7.05a2.5,5.2 0 1,1 5.0,0a2.5,5.2 0 1,1 -5.0,0Z" fill="#000" fill-rule="evenodd" stroke="none"/></g>
<g transform="translate(411.30 425.90)"><circle cx="2.7" cy="-1.7" r="1.5" fill="#000" stroke="none"/></g>
<g transform="translate(416.90 425.90)"><path d="M0.8,-7.05a5.2,7.15 0 1,0 10.4,0a5.2,7.15 0 1,0 -10.4,0ZM3.5,-7.05a2.5,5.2 0 1,1 5.0,0a2.5,5.2 0 1,1 -5.0,0Z" fill="#000" fill-rule="evenodd" stroke="none"/></g>
<g transform="translate(756.50 425.90)"><path d="M6.3,-13.3V-0.9" stroke-width="2.8" stroke-linecap="butt"/><path d="M3.3,-10.8C4.6,-10.9 5.6,-11.7 6.0,-13.0" stroke-width="2.0" stroke-linecap="round"/><path d="M3.3,-0.8H8.8" stroke-width="2.0" stroke-linecap="round"/></g>
<g transform="translate(768.50 425.90)"><path d="M0.8,-7.05a5.2,7.15 0 1,0 10.4,0a5.2,7.15 0 1,0 -10.4,0ZM3.5,-7.05a2.5,5.2 0 1,1 5.0,0a2.5,5.2 0 1,1 -5.0,0Z" fill="#000" fill-rule="evenodd" stroke="none"/></g>
<g transform="translate(780.50 425.90)"><circle cx="2.7" cy="-1.7" r="1.5" fill="#000" stroke="none"/></g>
<g transform="translate(786.10 425.90)"><path d="M0.8,-7.05a5.2,7.15 0 1,0 10.4,0a5.2,7.15 0 1,0 -10.4,0ZM3.5,-7.05a2.5,5.2 0 1,1 5.0,0a2.5,5.2 0 1,1 -5.0,0Z" fill="#000" fill-rule="evenodd" stroke="none"/></g>
<g transform="translate(55.50 408.70)"><path d="M0.8,-7.05a5.2,7.15 0 1,0 10.4,0a5.2,7.15 0 1,0 -10.4,0ZM3.5,-7.05a2.5,5.2 0 1,1 5.0,0a2.5,5.2 0 1,1 -5.0,0Z" fill="#000" fill-rule="evenodd" stroke="none"/></g>
<g transform="translate(793.30 408.70)"><path d="M0.8,-7.05a5.2,7.15 0 1,0 10.4,0a5.2,7.15 0 1,0 -10.4,0ZM3.5,-7.05a2.5,5.2 0 1,1 5.0,0a2.5,5.2 0 1,1 -5.0,0Z" fill="#000" fill-rule="evenodd" stroke="none"/></g>
<g transform="translate(55.50 337.03)"><path d="M6.3,-13.3V-0.9" stroke-width="2.8" stroke-linecap="butt"/><path d="M3.3,-10.8C4.6,-10.9 5.6,-11.7 6.0,-13.0" stroke-width="2.0" stroke-linecap="round"/><path d="M3.3,-0.8H8.8" stroke-width="2.0" stroke-linecap="round"/></g>
<g transform="translate(793.30 337.03)"><path d="M6.3,-13.3V-0.9" stroke-width="2.8" stroke-linecap="butt"/><path d="M3.3,-10.8C4.6,-10.9 5.6,-11.7 6.0,-13.0" stroke-width="2.0" stroke-linecap="round"/><path d="M3.3,-0.8H8.8" stroke-width="2.0" stroke-linecap="round"/></g>
<g transform="translate(55.50 265.36)"><path d="M2.1,-10.2C1.9,-12.3 3.6,-13.3 5.7,-13.3C8.4,-13.3 10.1,-12.1 10.1,-10.3C10.1,-8.5 8.3,-7.5 6.2,-6.3C3.8,-5.0 2.2,-3.6 1.7,-1.2" stroke-width="2.3" stroke-linecap="round"/><path d="M1.7,-1.2C2.2,-2.7 3.0,-3.4 4.1,-3.4C5.6,-3.4 6.6,-1.7 8.5,-1.7C9.6,-1.7 10.2,-2.8 10.4,-4.3" stroke-width="2.7" stroke-linecap="round"/><circle cx="2.5" cy="-10.0" r="1.45" fill="#000" stroke="none"/></g>
<g transform="translate(793.30 265.36)"><path d="M2.1,-10.2C1.9,-12.3 3.6,-13.3 5.7,-13.3C8.4,-13.3 10.1,-12.1 10.1,-10.3C10.1,-8.5 8.3,-7.5 6.2,-6.3C3.8,-5.0 2.2,-3.6 1.7,-1.2" stroke-width="2.3" stroke-linecap="round"/><path d="M1.7,-1.2C2.2,-2.7 3.0,-3.4 4.1,-3.4C5.6,-3.4 6.6,-1.7 8.5,-1.7C9.6,-1.7 10.2,-2.8 10.4,-4.3" stroke-width="2.7" stroke-linecap="round"/><circle cx="2.5" cy="-10.0" r="1.45" fill="#000" stroke="none"/></g>
<g transform="translate(55.50 193.69)"><path d="M2.1,-10.7C2.1,-12.6 3.8,-13.3 5.7,-13.3C8.2,-13.3 9.8,-12.4 9.8,-10.8C9.8,-9.2 8.0,-8.2 5.3,-8.1C8.6,-8.0 10.5,-6.5 10.5,-4.4C10.5,-2.0 8.5,-0.8 5.9,-0.8C3.4,-0.8 1.7,-1.9 1.7,-3.3C1.7,-4.0 2.0,-4.4 2.3,-4.6" stroke-width="2.3" stroke-linecap="round"/><circle cx="2.6" cy="-10.4" r="1.4" fill="#000" stroke="none"/><circle cx="2.6" cy="-4.3" r="1.4" fill="#000" stroke="none"/></g>
<g transform="translate(793.30 193.69)"><path d="M2.1,-10.7C2.1,-12.6 3.8,-13.3 5.7,-13.3C8.2,-13.3 9.8,-12.4 9.8,-10.8C9.8,-9.2 8.0,-8.2 5.3,-8.1C8.6,-8.0 10.5,-6.5 10.5,-4.4C10.5,-2.0 8.5,-0.8 5.9,-0.8C3.4,-0.8 1.7,-1.9 1.7,-3.3C1.7,-4.0 2.0,-4.4 2.3,-4.6" stroke-width="2.3" stroke-linecap="round"/><circle cx="2.6" cy="-10.4" r="1.4" fill="#000" stroke="none"/><circle cx="2.6" cy="-4.3" r="1.4" fill="#000" stroke="none"/></g>
<g transform="translate(55.50 122.02)"><path d="M7.5,-13.9V-0.9" stroke-width="2.8" stroke-linecap="butt"/><path d="M7.2,-13.4L1.3,-4.7H10.7" stroke-width="2.0" stroke-linecap="round"/><path d="M5.3,-0.8H9.8" stroke-width="2.0" stroke-linecap="round"/></g>
<g transform="translate(793.30 122.02)"><path d="M7.5,-13.9V-0.9" stroke-width="2.8" stroke-linecap="butt"/><path d="M7.2,-13.4L1.3,-4.7H10.7" stroke-width="2.0" stroke-linecap="round"/><path d="M5.3,-0.8H9.8" stroke-width="2.0" stroke-linecap="round"/></g>
<g transform="translate(55.50 50.35)"><path d="M9.4,-13.6C8.0,-13.0 6.0,-13.2 2.4,-13.2L1.6,-7.3C2.8,-8.8 4.4,-9.5 6.0,-9.5C8.8,-9.5 10.5,-7.6 10.5,-5.2C10.5,-2.4 8.6,-0.8 5.9,-0.8C3.5,-0.8 1.8,-1.9 1.8,-3.4C1.8,-4.2 2.2,-4.8 2.6,-5.0" stroke-width="2.3" stroke-linecap="round"/><circle cx="2.9" cy="-4.7" r="1.4" fill="#000" stroke="none"/></g>
<g transform="translate(793.30 50.35)"><path d="M9.4,-13.6C8.0,-13.0 6.0,-13.2 2.4,-13.2L1.6,-7.3C2.8,-8.8 4.4,-9.5 6.0,-9.5C8.8,-9.5 10.5,-7.6 10.5,-5.2C10.5,-2.4 8.6,-0.8 5.9,-0.8C3.5,-0.8 1.8,-1.9 1.8,-3.4C1.8,-4.2 2.2,-4.8 2.6,-5.0" stroke-width="2.3" stroke-linecap="round"/><circle cx="2.9" cy="-4.7" r="1.4" fill="#000" stroke="none"/></g>
<g transform="translate(343.90 62.80)"><path d="M5.6,-17.15C2.9,-14.6 1.45,-11 1.45,-7.3C1.45,-3.6 2.9,0 5.6,2.55" stroke-width="2.5" stroke-linecap="round"/></g>
<g transform="translate(352.40 62.80)"><path d="M1.2,-8.2C1.4,-9.6 2.9,-10.25 4.7,-10.25C7.1,-10.25 8.5,-9.4 8.5,-7.6V-3.0C8.5,-1.6 9.5,-1.0 11.3,-1.3" stroke-width="2.3" stroke-linecap="round"/><path d="M8.5,-6.4C4.5,-6.1 1.2,-5.6 1.2,-3.3C1.2,-1.8 2.5,-1.15 4.3,-1.15C6.1,-1.15 7.7,-1.8 8.5,-3.1" stroke-width="2.3" stroke-linecap="round"/></g>
<g transform="translate(365.70 62.80)"><path d="M0.9,-17.15C3.6,-14.6 5.05,-11 5.05,-7.3C5.05,-3.6 3.6,0 0.9,2.55" stroke-width="2.5" stroke-linecap="round"/></g>
<g transform="translate(690.90 62.80)"><path d="M5.6,-17.15C2.9,-14.6 1.45,-11 1.45,-7.3C1.45,-3.6 2.9,0 5.6,2.55" stroke-width="2.5" stroke-linecap="round"/></g>
<g transform="translate(698.70 62.80)"><path d="M3.5,-15.2V-0.05" stroke-width="2.8" stroke-linecap="butt"/><path d="M0.9,-14.9H3.5" stroke-width="2.0" stroke-linecap="round"/><path d="M3.5,-8.2C4.3,-9.5 5.7,-10.2 7.4,-10.2C10.0,-10.2 11.3,-8.4 11.3,-5.7C11.3,-3.0 10.0,-1.15 7.4,-1.15C5.7,-1.15 4.3,-1.8 3.5,-3.0" stroke-width="2.4" stroke-linecap="round"/></g>
<g transform="translate(713.30 62.80)"><path d="M0.9,-17.15C3.6,-14.6 5.05,-11 5.05,-7.3C5.05,-3.6 3.6,0 0.9,2.55" stroke-width="2.5" stroke-linecap="round"/></g>
<g transform="translate(30.2 251.2) rotate(-90) scale(1.14 1.22)">
<g transform="translate(-1.5 0) skewX(-15)"><path d="M4.74,-10.4H11.3" stroke-width="1.9" stroke-linecap="round"/><ellipse cx="4.74" cy="-5.78" rx="3.77" ry="4.63" stroke-width="1.95"/></g>
<g transform="translate(16.20 0.00)"><path d="M4.9,-17.6H0V3.4H4.9" stroke-width="1.75" stroke-linecap="round"/></g>
<g transform="translate(25.30 0.00)"><path d="M1.2,-8.2C1.4,-9.6 2.9,-10.25 4.7,-10.25C7.1,-10.25 8.5,-9.4 8.5,-7.6V-3.0C8.5,-1.6 9.5,-1.0 11.3,-1.3" stroke-width="1.8399999999999999" stroke-linecap="round"/><path d="M8.5,-6.4C4.5,-6.1 1.2,-5.6 1.2,-3.3C1.2,-1.8 2.5,-1.15 4.3,-1.15C6.1,-1.15 7.7,-1.8 8.5,-3.1" stroke-width="1.8399999999999999" stroke-linecap="round"/></g>
<g transform="translate(39.30 0.00)"><path d="M3.5,-15.2V-0.05" stroke-width="2.2399999999999998" stroke-linecap="butt"/><path d="M0.9,-14.9H3.5" stroke-width="1.6" stroke-linecap="round"/><path d="M3.5,-8.2C4.3,-9.5 5.7,-10.2 7.4,-10.2C10.0,-10.2 11.3,-8.4 11.3,-5.7C11.3,-3.0 10.0,-1.15 7.4,-1.15C5.7,-1.15 4.3,-1.8 3.5,-3.0" stroke-width="1.92" stroke-linecap="round"/></g>
<g transform="translate(60.60 0.00)"><path d="M-4.9,-17.6H0V3.4H-4.9" stroke-width="1.75" stroke-linecap="round"/></g>
</g>
</g>
<path d="M254.22 441.32C251.40 441.68 250.50 443.68 252.31 445.05L256.86 445.41M252.31 445.05C249.13 446.86 247.77 450.50 251.40 452.50L255.22 452.77M251.40 452.50C247.31 453.86 245.50 457.32 249.59 459.32C252.77 460.77 255.04 461.86 254.13 463.68C253.50 464.77 251.40 465.05 249.86 464.59" stroke="#000" stroke-width="2.7" fill="none" stroke-linecap="round" stroke-linejoin="round"/>
<path d="M609.42 441.32C606.60 441.68 605.70 443.68 607.51 445.05L612.06 445.41M607.51 445.05C604.33 446.86 602.97 450.50 606.60 452.50L610.42 452.77M606.60 452.50C602.51 453.86 600.70 457.32 604.79 459.32C607.97 460.77 610.24 461.86 609.33 463.68C608.70 464.77 606.60 465.05 605.06 464.59" stroke="#000" stroke-width="2.7" fill="none" stroke-linecap="round" stroke-linejoin="round"/>
</svg>
</body></html>
